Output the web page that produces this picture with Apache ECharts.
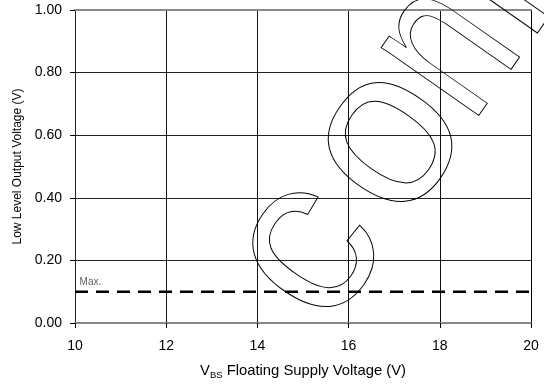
<!DOCTYPE html>
<html>
<head>
<meta charset="utf-8">
<script src="https://cdn.jsdelivr.net/npm/echarts@6/dist/echarts.min.js"></script>
<style>html,body{margin:0;padding:0;background:#fff}#c{width:544px;height:385px}</style>
</head>
<body>
<div id="c"></div>
<script>
// Data
var maxLineX = [10, 20];
var maxLineY = [0.10, 0.10];
var maxLabelPos = [10.1, 0.13];
var xTickValues = [10, 12, 14, 16, 18, 20];
var yTickValues = [0.00, 0.20, 0.40, 0.60, 0.80, 1.00];
var xName = 'Floating Supply Voltage (V)';
var yName = 'Low Level Output Voltage (V)';
var watermarkLetters = ['c', 'o', 'n', 'f'];

var FONT = "'Liberation Sans', Arial, sans-serif";
var chart = echarts.init(document.getElementById('c'), null, {renderer: 'canvas'});

// decorative watermark (outlined, rotated letters)
var wmPos = [[309, 251], [388, 141], [448, 51], [493, -12]];
var wmScaleX = [1, 1, 0.75, 1];
var rot = 55 * Math.PI / 180;
var graphics = watermarkLetters.map(function (ch, i) {
  return {
    type: 'text', x: wmPos[i][0], y: wmPos[i][1], rotation: rot, scaleX: wmScaleX[i], scaleY: 1,
    z: 100, silent: true,
    style: {text: ch, font: '225px ' + FONT, fill: 'none', stroke: '#000', lineWidth: 1,
            align: 'center', verticalAlign: 'middle'}
  };
});

var option = {
  animation: false,
  backgroundColor: '#fff',
  textStyle: {fontFamily: FONT},
  grid: {left: 75, right: 13, top: 10, bottom: 62, containLabel: false, outerBoundsMode: 'none'},
  xAxis: [{
    type: 'value', min: xTickValues[0], max: xTickValues[xTickValues.length - 1], interval: 2,
    name: '{v|V}{s|BS}{t| ' + xName + '}', nameLocation: 'middle', nameGap: 39,
    nameTextStyle: {rich: {
      v: {fontSize: 14.8, fontFamily: FONT, color: '#000', verticalAlign: 'middle', lineHeight: 18},
      s: {fontSize: 9.5, fontFamily: FONT, color: '#000', verticalAlign: 'bottom', lineHeight: 14},
      t: {fontSize: 14.8, fontFamily: FONT, color: '#000', verticalAlign: 'middle', lineHeight: 18}
    }},
    axisLine: {show: true, onZero: false, lineStyle: {color: '#888', width: 2}},
    axisTick: {show: true, length: 5, lineStyle: {color: '#000', width: 1}},
    axisLabel: {fontSize: 14, color: '#000', margin: 16, fontFamily: FONT},
    splitLine: {show: true, lineStyle: {color: '#111', width: 1}}
  }, {
    type: 'value', position: 'top', min: 10, max: 20, interval: 2,
    axisLine: {show: true, onZero: false, lineStyle: {color: '#888', width: 2}},
    axisTick: {show: false}, axisLabel: {show: false}, splitLine: {show: false}
  }],
  yAxis: [{
    type: 'value', min: yTickValues[0], max: yTickValues[yTickValues.length - 1], interval: 0.2,
    name: yName, nameLocation: 'middle', nameGap: 50,
    nameTextStyle: {fontSize: 12, color: '#000', fontFamily: FONT},
    axisLine: {show: true, onZero: false, lineStyle: {color: '#222', width: 1}},
    axisTick: {show: true, length: 5, lineStyle: {color: '#000', width: 1}},
    axisLabel: {fontSize: 14, color: '#000', margin: 13, fontFamily: FONT,
      formatter: function (v) { return v.toFixed(2); }},
    splitLine: {show: true, lineStyle: {color: '#222', width: 1}}
  }, {
    type: 'value', position: 'right', min: 0, max: 1, interval: 0.2,
    axisLine: {show: true, onZero: false, lineStyle: {color: '#000', width: 1}},
    axisTick: {show: false}, axisLabel: {show: false}, splitLine: {show: false}
  }],
  series: [{
    type: 'line', xAxisIndex: 0, yAxisIndex: 0,
    data: maxLineX.map(function (x, i) { return [x, maxLineY[i]]; }),
    symbol: 'none', lineStyle: {color: '#000', width: 2.5, type: [13, 8]}, z: 5
  }, {
    type: 'scatter', xAxisIndex: 0, yAxisIndex: 0,
    data: [maxLabelPos], symbolSize: 0,
    label: {show: true, position: 'right', distance: 0, formatter: 'Max.', fontSize: 10, color: '#333', fontFamily: FONT}
  }],
  graphic: graphics
};
chart.setOption(option);
</script>
</body>
</html>
